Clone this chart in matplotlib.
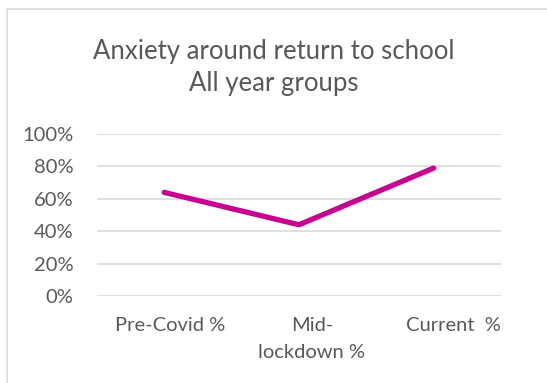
import matplotlib.pyplot as plt
from matplotlib.patches import Rectangle
from matplotlib.ticker import PercentFormatter
from matplotlib.transforms import ScaledTranslation

# data
categories = ['Pre-Covid %', 'Mid-\nlockdown %', 'Current  %']
values = [0.64, 0.44, 0.79]
yticks = [0, 0.2, 0.4, 0.6, 0.8, 1.0]

plt.rcParams['font.family'] = ['Lato', 'DejaVu Sans']
text_color = '#595959'

fig = plt.figure(figsize=(5.47, 3.83), dpi=100)
ax = fig.add_axes([0.177, 0.227, 0.739, 0.423])

# chart border (clipped at right/bottom like the original)
fig.patches.append(Rectangle((7 / 547, -0.1), 1.2, 1 - 9 / 383 + 0.1,
                             transform=fig.transFigure, fill=False,
                             edgecolor='#D9D9D9', linewidth=1.2))

x = list(range(len(categories)))
ax.plot(x, values, color='#C8008F', linewidth=3.8, solid_capstyle='round', zorder=3)

ax.set_xlim(-0.5, len(categories) - 0.5)
ax.set_ylim(0, 1)
ax.set_yticks(yticks)
ax.yaxis.set_major_formatter(PercentFormatter(1.0, decimals=0))
ax.set_xticks(x)
ax.set_xticklabels(categories, linespacing=1.7)

ax.grid(axis='y', color='#D9D9D9', linewidth=1.2)
ax.set_axisbelow(True)
for s in ax.spines.values():
    s.set_visible(False)
ax.tick_params(axis='both', length=0, labelsize=14.5, colors=text_color)
ax.tick_params(axis='y', pad=17)
ax.tick_params(axis='x', pad=15)

# labels in the original sit slightly right of the category centres
for lbl, dx in zip(ax.get_xticklabels(), [6, 13, 20]):
    lbl.set_transform(lbl.get_transform() + ScaledTranslation(dx / 100, 0, fig.dpi_scale_trans))

fig.text(0.5, 1 - 67 / 383, 'Anxiety around return to school\nAll year groups',
         ha='center', va='center', fontsize=18.5, color=text_color, linespacing=1.35)

fig.savefig('out.png', dpi=100)
